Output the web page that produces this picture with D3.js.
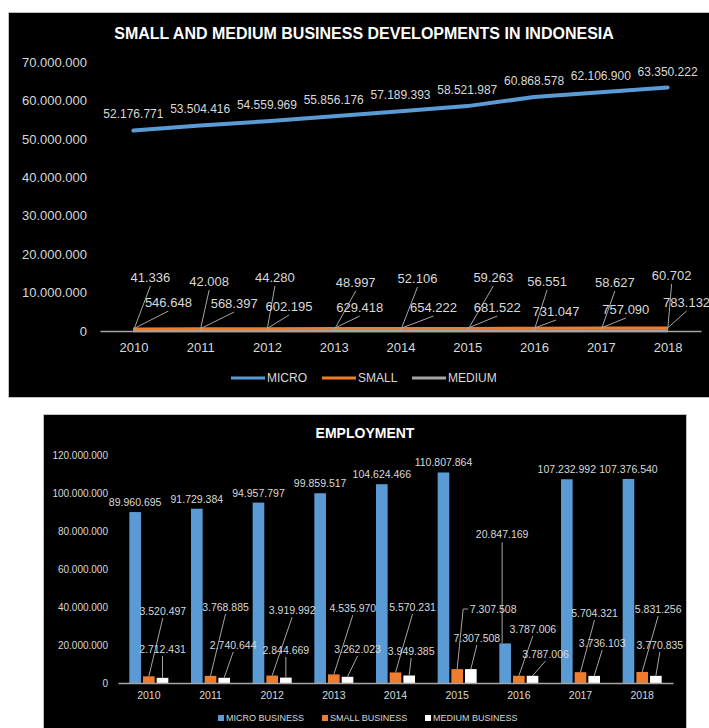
<!DOCTYPE html>
<html>
<head>
<meta charset="utf-8">
<script src="https://cdn.jsdelivr.net/npm/d3@7"></script>
<style>
  body { margin: 0; background: #fff; }
  text { font-family: "Liberation Sans", Arial, sans-serif; }
</style>
</head>
<body>
<div id="chart"></div>
<script>
// ---- data ----
var years = ["2010", "2011", "2012", "2013", "2014", "2015", "2016", "2017", "2018"];

var microUnits = [52176771, 53504416, 54559969, 55856176, 57189393, 58521987, 60868578, 62106900, 63350222];
var smallUnits = [546648, 568397, 602195, 629418, 654222, 681522, 731047, 757090, 783132];
var mediumUnits = [41336, 42008, 44280, 48997, 52106, 59263, 56551, 58627, 60702];
var unitTicks = [0, 10000000, 20000000, 30000000, 40000000, 50000000, 60000000, 70000000];

var microJobs = [89960695, 91729384, 94957797, 99859517, 104624466, 110807864, 20847169, 107232992, 107376540];
var smallJobs = [3520497, 3768885, 3919992, 4535970, 5570231, 7307508, 3787006, 5704321, 5831256];
var mediumJobs = [2712431, 2740644, 2844669, 3262023, 3949385, 7307508, 3787006, 3736103, 3770835];
var jobTicks = [0, 20000000, 40000000, 60000000, 80000000, 100000000, 120000000];

// label placement (pixels) for the dragged data labels
var mediumUnitLbl = [[17, -54], [9, -50], [8, -54], [22, -49], [17, -53], [26, -54], [13, -50], [14, -49], [4, -56]];
var smallUnitLbl = [[35, -29], [34, -28], [22, -25], [26, -24], [33, -24], [30, -24], [22, -20], [25, -22], [19, -29]];
var microJobLbl = [[0, -10], [0, -10], [0, -10], [0, -10], [0, -10], [0, -10], [-3, -109], [0, -10], [0, -10]];
var smallJobLbl = [[14, -72], [15, -76], [20, -73], [19, -75], [17, -76], [36, -74], [14, -54], [14, -70], [16, -74]];
var mediumJobLbl = [[0, -34], [9, -38], [0, -33], [10, -34], [2, -32], [6, -45], [13, -29], [8, -40], [4, -38]];

var fmt = d3.formatLocale({ decimal: ",", thousands: ".", grouping: [3], currency: ["", ""] }).format(",d");

var blue = "#5B9BD5", orange = "#ED7D31", gray = "#A5A5A5", txt = "#d9d9d9";

var svg = d3.select("#chart").append("svg")
    .attr("width", 709)
    .attr("height", 728);

// ================= top chart =================
svg.append("rect")
    .attr("x", 8.5).attr("y", 12.5)
    .attr("width", 720).attr("height", 385)
    .attr("fill", "#000").attr("stroke", "#c0c0c0");

svg.append("text")
    .attr("x", 364).attr("y", 33)
    .attr("text-anchor", "middle").attr("dominant-baseline", "central")
    .attr("fill", "#fff").style("font-size", "16px").style("font-weight", "bold")
    .text("SMALL AND MEDIUM BUSINESS DEVELOPMENTS IN INDONESIA");

var x1 = d3.scalePoint().domain(years).range([100, 701]).padding(0.5);
var y1 = d3.scaleLinear().domain([0, 70000000]).range([331, 62]);

// y axis
var ya = svg.append("g")
    .attr("transform", "translate(100,0)")
    .call(d3.axisLeft(y1).tickValues(unitTicks).tickFormat(fmt).tickSize(0).tickPadding(13));
ya.select(".domain").remove();
ya.selectAll("text").attr("fill", txt).style("font-size", "13px");

// x axis
var xa = svg.append("g")
    .attr("transform", "translate(0,331)")
    .call(d3.axisBottom(x1).tickSize(0).tickPadding(12));
xa.select(".domain").attr("stroke", gray).attr("stroke-width", 1.5);
xa.selectAll("text").attr("fill", txt).style("font-size", "13px");

var line1 = d3.line()
    .x(function (d, i) { return x1(years[i]); })
    .y(function (d) { return y1(d); });

svg.append("path").datum(mediumUnits)
    .attr("d", line1).attr("fill", "none")
    .attr("stroke", gray).attr("stroke-width", 3);
svg.append("path").datum(smallUnits)
    .attr("d", line1).attr("fill", "none")
    .attr("stroke", orange).attr("stroke-width", 3);
svg.append("path").datum(microUnits)
    .attr("d", line1).attr("fill", "none")
    .attr("stroke", blue).attr("stroke-width", 4)
    .attr("stroke-linecap", "round");

// micro labels
svg.append("g").selectAll("text")
    .data(microUnits).enter().append("text")
    .attr("x", function (d, i) { return x1(years[i]); })
    .attr("y", function (d) { return y1(d) - 16; })
    .attr("text-anchor", "middle").attr("dominant-baseline", "central")
    .attr("fill", txt).style("font-size", "12px")
    .text(function (d) { return fmt(d); });

// leader labels for small and medium
function leaderLabels(vals, offs) {
    var g = svg.append("g");
    vals.forEach(function (v, i) {
        var px = x1(years[i]), py = y1(v);
        var lx = px + offs[i][0], ly = 331 + offs[i][1];
        g.append("line")
            .attr("x1", px).attr("y1", py)
            .attr("x2", lx).attr("y2", ly + 9)
            .attr("stroke", gray).attr("stroke-width", 1);
        g.append("text")
            .attr("x", lx).attr("y", ly)
            .attr("text-anchor", "middle").attr("dominant-baseline", "central")
            .attr("fill", txt).style("font-size", "13px")
            .text(fmt(v));
    });
}
leaderLabels(mediumUnits, mediumUnitLbl);
leaderLabels(smallUnits, smallUnitLbl);

// top legend
var legTop = [
    { label: "MICRO", color: blue, x: 231 },
    { label: "SMALL", color: orange, x: 322 },
    { label: "MEDIUM", color: gray, x: 412 }
];
var lt = svg.append("g").selectAll("g").data(legTop).enter().append("g");
lt.append("line")
    .attr("x1", function (d) { return d.x; }).attr("x2", function (d) { return d.x + 34; })
    .attr("y1", 378).attr("y2", 378)
    .attr("stroke", function (d) { return d.color; }).attr("stroke-width", 3);
lt.append("text")
    .attr("x", function (d) { return d.x + 36; }).attr("y", 378)
    .attr("dominant-baseline", "central")
    .attr("fill", txt).style("font-size", "12px")
    .text(function (d) { return d.label; });

// ================= bottom chart =================
svg.append("rect")
    .attr("x", 43.5).attr("y", 414.5)
    .attr("width", 643).attr("height", 330)
    .attr("fill", "#000").attr("stroke", "#c0c0c0");

svg.append("text")
    .attr("x", 365).attr("y", 433)
    .attr("text-anchor", "middle").attr("dominant-baseline", "central")
    .attr("fill", "#fff").style("font-size", "14px").style("font-weight", "bold")
    .text("EMPLOYMENT");

var x2 = d3.scaleBand().domain(years).range([118, 673]);
var series = ["micro", "small", "medium"];
var xs = d3.scaleBand().domain(series).range([0, 39]).paddingInner(0.15);
var groupOff = (x2.bandwidth() - 39) / 2;
var y2 = d3.scaleLinear().domain([0, 120000000]).range([683, 455]);

var ya2 = svg.append("g")
    .attr("transform", "translate(118,0)")
    .call(d3.axisLeft(y2).tickValues(jobTicks).tickFormat(fmt).tickSize(0).tickPadding(10));
ya2.select(".domain").remove();
ya2.selectAll("text").attr("fill", txt).style("font-size", "10px");

var jobs = { micro: microJobs, small: smallJobs, medium: mediumJobs };
var barColor = { micro: blue, small: orange, medium: "#ffffff" };

function barX(s, i) { return x2(years[i]) + groupOff + xs(s); }

series.forEach(function (s) {
    svg.append("g").selectAll("rect")
        .data(jobs[s]).enter().append("rect")
        .attr("x", function (d, i) { return barX(s, i); })
        .attr("y", function (d) { return y2(d); })
        .attr("width", xs.bandwidth())
        .attr("height", function (d) { return 683 - y2(d); })
        .attr("fill", barColor[s]);
});

var xa2 = svg.append("g")
    .attr("transform", "translate(0,683)")
    .call(d3.axisBottom(x2).tickSize(0).tickPadding(9));
xa2.select(".domain").attr("stroke", gray).attr("stroke-width", 1.5);
xa2.selectAll("text").attr("fill", txt).style("font-size", "10.5px");

// micro labels (2016 one is dragged up with a leader)
microJobs.forEach(function (v, i) {
    var cx = barX("micro", i) + xs.bandwidth() / 2;
    var lx = cx + microJobLbl[i][0], ly = y2(v) + microJobLbl[i][1];
    if (microJobLbl[i][1] < -20) {
        svg.append("line")
            .attr("x1", lx).attr("y1", ly + 8)
            .attr("x2", lx).attr("y2", y2(v))
            .attr("stroke", gray).attr("stroke-width", 1);
    }
    svg.append("text")
        .attr("x", lx).attr("y", ly)
        .attr("text-anchor", "middle").attr("dominant-baseline", "central")
        .attr("fill", txt).style("font-size", "10.5px")
        .text(fmt(v));
});

function jobLeaders(s, offs) {
    var g = svg.append("g");
    jobs[s].forEach(function (v, i) {
        var cx = barX(s, i) + xs.bandwidth() / 2, cy = y2(v);
        var lx = cx + offs[i][0], ly = 683 + offs[i][1];
        if (offs[i][0] > 30) {
            // label sits to the right: elbow leader to its left edge
            g.append("polyline")
                .attr("points", [[cx, cy], [cx + 6, ly], [cx + 11, ly]].join(" "))
                .attr("fill", "none").attr("stroke", gray).attr("stroke-width", 1);
        } else {
            g.append("line")
                .attr("x1", cx).attr("y1", cy)
                .attr("x2", lx).attr("y2", ly + 7)
                .attr("stroke", gray).attr("stroke-width", 1);
        }
        g.append("text")
            .attr("x", lx).attr("y", ly)
            .attr("text-anchor", "middle").attr("dominant-baseline", "central")
            .attr("fill", txt).style("font-size", "10.5px")
            .text(fmt(v));
    });
}
jobLeaders("small", smallJobLbl);
jobLeaders("medium", mediumJobLbl);

// bottom legend
var legBot = [
    { label: "MICRO BUSINESS", color: blue, x: 218 },
    { label: "SMALL BUSINESS", color: orange, x: 322 },
    { label: "MEDIUM BUSINESS", color: "#ffffff", x: 425 }
];
var lb = svg.append("g").selectAll("g").data(legBot).enter().append("g");
lb.append("rect")
    .attr("x", function (d) { return d.x; }).attr("y", 715)
    .attr("width", 6).attr("height", 6)
    .attr("fill", function (d) { return d.color; });
lb.append("text")
    .attr("x", function (d) { return d.x + 8; }).attr("y", 718)
    .attr("dominant-baseline", "central")
    .attr("fill", txt).style("font-size", "9px")
    .text(function (d) { return d.label; });
</script>
</body>
</html>
